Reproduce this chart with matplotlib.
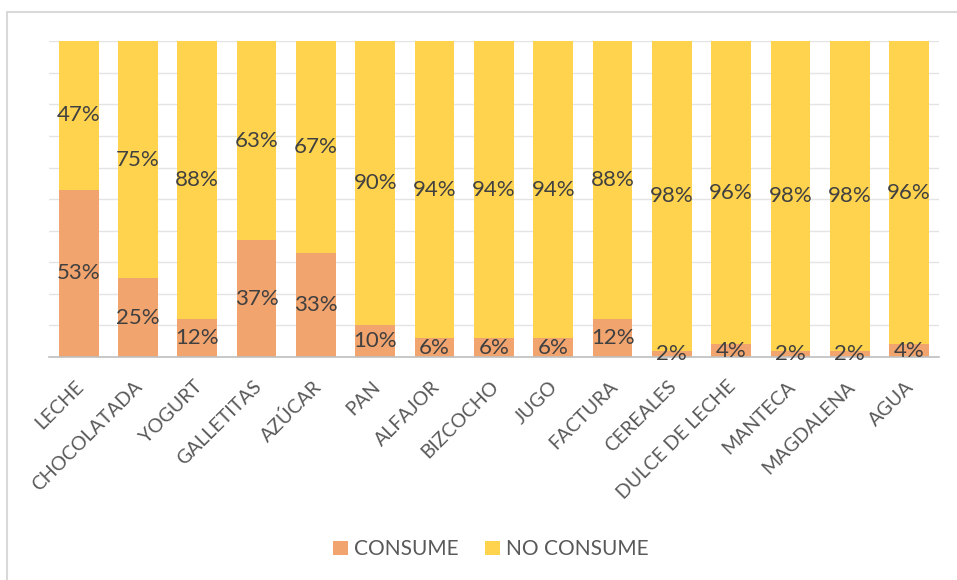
import matplotlib.pyplot as plt
from matplotlib.patches import Rectangle
from matplotlib.transforms import ScaledTranslation
import numpy as np

plt.rcParams['font.family'] = ['Lato', 'DejaVu Sans']

categorias = ['LECHE', 'CHOCOLATADA', 'YOGURT', 'GALLETITAS', 'AZÚCAR', 'PAN',
              'ALFAJOR', 'BIZCOCHO', 'JUGO', 'FACTURA', 'CEREALES',
              'DULCE DE LECHE', 'MANTECA', 'MAGDALENA', 'AGUA']
consume = [53, 25, 12, 37, 33, 10, 6, 6, 6, 12, 2, 4, 2, 2, 4]
no_consume = [47, 75, 88, 63, 67, 90, 94, 94, 94, 88, 98, 96, 98, 98, 96]

c_cons = '#F1A46E'
c_no = '#FFD34E'
txt = '#404040'

fig = plt.figure(figsize=(9.57, 5.8), dpi=100)
ax = fig.add_axes([0.0512, 0.3845, 0.9298, 0.5445])

x = np.arange(len(categorias))
ax.bar(x, consume, width=0.67, color=c_cons, label='CONSUME', zorder=2)
ax.bar(x, no_consume, width=0.67, bottom=consume, color=c_no,
       label='NO CONSUME', zorder=2)

for i in x:
    ax.text(i, consume[i] / 2, f'{consume[i]}%', ha='center', va='center',
            fontsize=16, color=txt, zorder=3)
    ax.text(i, consume[i] + no_consume[i] / 2, f'{no_consume[i]}%',
            ha='center', va='center', fontsize=16, color=txt, zorder=3)

ax.set_xlim(-0.5, len(categorias) - 0.5)
ax.set_ylim(0, 100)
ax.set_yticks(np.arange(0, 101, 10))
ax.yaxis.grid(True, color='#E4E4E4', linewidth=1, zorder=0)
ax.tick_params(axis='y', left=False, labelleft=False)
ax.tick_params(axis='x', length=0, pad=15)
ax.set_xticks(x)
ax.set_xticklabels(categorias, rotation=45, ha='right', va='top',
                   rotation_mode='anchor', fontsize=14, color='#595959')
shift = ScaledTranslation(-0.04, 0, fig.dpi_scale_trans)
for lbl in ax.get_xticklabels():
    lbl.set_transform(lbl.get_transform() + shift)
for s in ['top', 'right', 'left']:
    ax.spines[s].set_visible(False)
ax.spines['bottom'].set_color('#BFBFBF')
ax.spines['bottom'].set_linewidth(1.2)

ax.legend(loc='center', bbox_to_anchor=(0.513, 0.053), bbox_transform=fig.transFigure,
          ncol=2, frameon=False, fontsize=15, labelcolor='#595959',
          handlelength=0.7, handleheight=0.7, columnspacing=1.3, handletextpad=0.3)

# marco del gráfico
fig.patches.append(Rectangle((7 / 957, -0.05), 1.2, 1.0 - 12 / 580 + 0.05,
                             transform=fig.transFigure, fill=False,
                             edgecolor='#D9D9D9', linewidth=1.5))

fig.savefig('out.png')
